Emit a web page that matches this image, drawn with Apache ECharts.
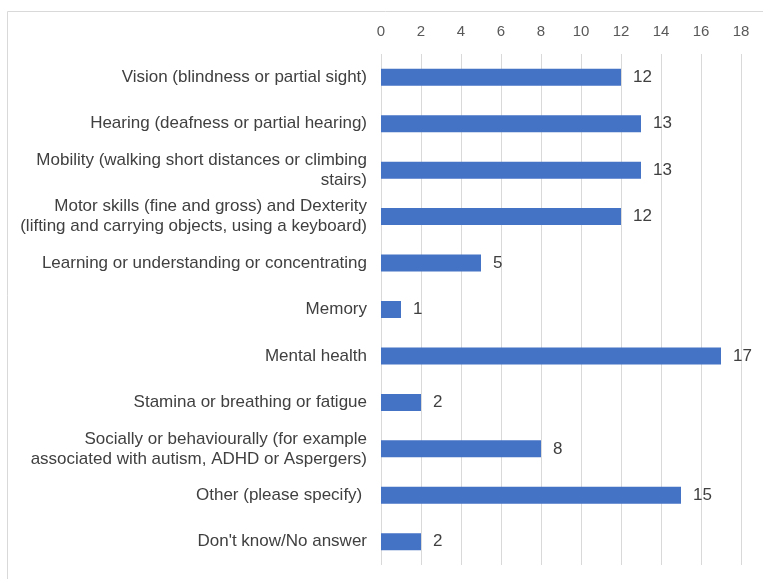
<!DOCTYPE html>
<html><head><meta charset="utf-8">
<script src="https://cdn.jsdelivr.net/npm/echarts@6/dist/echarts.min.js"></script>
<style>html,body{margin:0;padding:0;background:#fff}#c{width:763px;height:579px}</style>
</head><body><div id="c"></div>
<script>
const categories = [
  "Vision (blindness or partial sight)",
  "Hearing (deafness or partial hearing)",
  "Mobility (walking short distances or climbing\nstairs)",
  "Motor skills (fine and gross) and Dexterity\n(lifting and carrying objects, using a keyboard)",
  "Learning or understanding or concentrating",
  "Memory",
  "Mental health",
  "Stamina or breathing or fatigue",
  "Socially or behaviourally (for example\nassociated with autism, ADHD or Aspergers)",
  "Other (please specify) ",
  "Don't know/No answer"
];
const values = [12, 13, 13, 12, 5, 1, 17, 2, 8, 15, 2];
const axisMin = 0, axisMax = 18, axisStep = 2;

const chart = echarts.init(document.getElementById('c'));
chart.setOption({
  animation: false,
  graphic: [{type:'rect', shape:{x:7.5,y:11.5,width:800,height:600}, style:{fill:'none', stroke:'#d9d9d9', lineWidth:1}}],
  grid: {left: 381, right: 22, top: 54, bottom: 14},
  xAxis: {
    type: 'value', position: 'top', min: axisMin, max: axisMax, interval: axisStep,
    axisLine: {show:false}, axisTick: {show:false},
    axisLabel: {color:'#595959', fontSize:15, fontFamily:'Liberation Sans, Arial, sans-serif', margin: 15},
    splitLine: {lineStyle:{color:'#d9d9d9', width:1}}
  },
  yAxis: {
    type: 'category', data: categories, inverse: true,
    axisLine: {show:false}, axisTick: {show:false},
    axisLabel: {color:'#404040', fontSize:17, fontFamily:'Liberation Sans, Arial, sans-serif', margin: 14, lineHeight: 20, align:'right'}
  },
  series: [{
    type: 'bar', data: values, barWidth: 17,
    itemStyle: {color:'#4472C4'},
    label: {show:true, position:'right', distance: 12, color:'#404040', fontSize:17, fontFamily:'Liberation Sans, Arial, sans-serif'}
  }]
});
</script></body></html>
